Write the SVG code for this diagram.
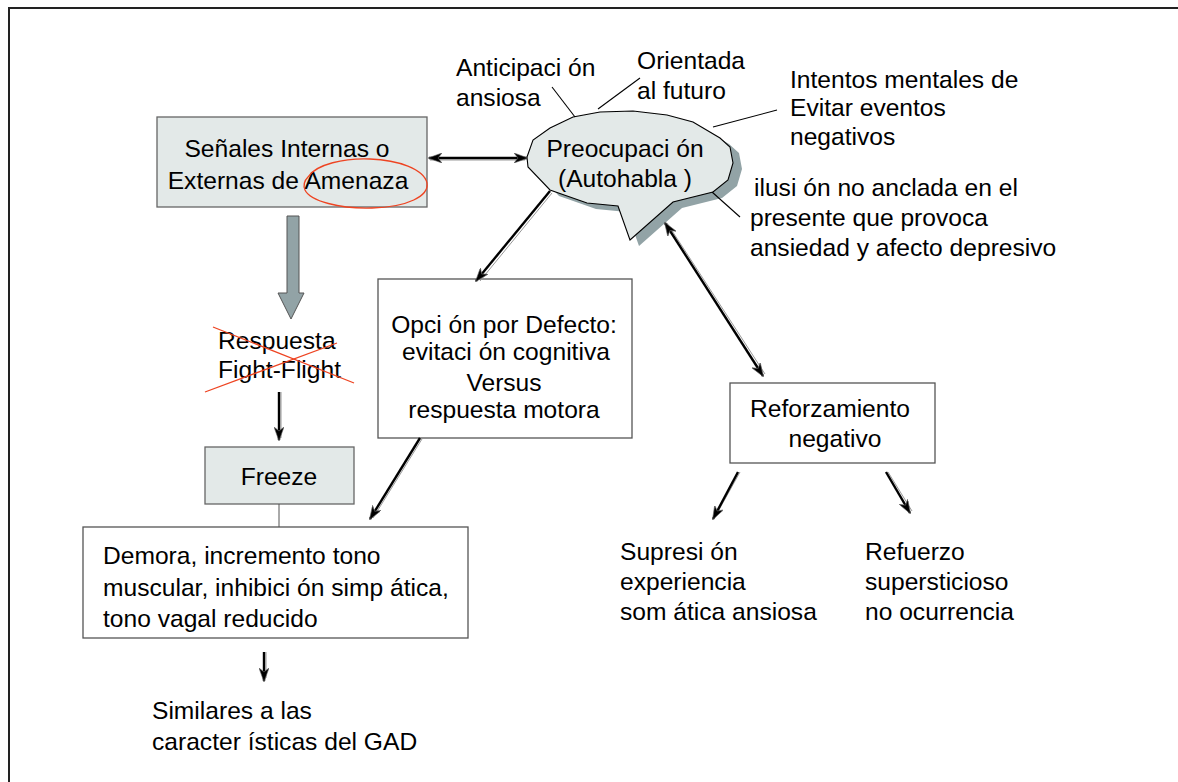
<svg xmlns="http://www.w3.org/2000/svg" width="1178" height="782" viewBox="0 0 1178 782">
<defs>
<style>
text{font-family:"Liberation Sans",Arial,sans-serif;font-size:24.6px;fill:#000}
.mid{text-anchor:middle}
.box{fill:#fff;stroke:#555;stroke-width:1.3}
.gbox{fill:#e3e9e8;stroke:#666;stroke-width:1.3}
.lead{stroke:#000;stroke-width:1.1;fill:none}
.conn{stroke:#000;stroke-width:2.4;fill:none}
.hl{stroke:#999;stroke-width:1;fill:none}
.red{stroke:#ee4422;stroke-width:1.3;fill:none}
</style>
<marker id="ah" viewBox="0 0 14 10" refX="13" refY="5" markerWidth="14" markerHeight="10" markerUnits="userSpaceOnUse" orient="auto-start-reverse">
<path d="M0,0 L14,5 L0,10 L4,5 z" fill="#000" stroke="#666" stroke-width="0.6"/>
</marker>
</defs>
<rect width="1178" height="782" fill="#fff"/>
<g id="frame">
<path d="M9,782 L9,8 L1178,8" fill="none" stroke="#222" stroke-width="2"/>
</g>

<g id="bubble">
<path transform="translate(9,6)" fill="#92a3a6" d="M527,157 L533,140 L550,128 L573,117 L600,112 L633,111 L667,115 L693,122 L720,138 L730,147 L733,163 L728,180 L713,192 L673,202 L630,240 L618,206 L587,203 L550,190 L528,167 Z"/>
<path fill="#e3e9e8" stroke="#000" stroke-width="1.1" d="M527,157 L533,140 L550,128 L573,117 L600,112 L633,111 L667,115 L693,122 L720,138 L730,147 L733,163 L728,180 L713,192 L673,202 L630,240 L618,206 L587,203 L550,190 L528,167 Z"/>
<text x="625" y="157" class="mid">Preocupaci ón</text>
<text x="625" y="187" class="mid">(Autohabla )</text>
</g>

<g id="senales">
<rect class="gbox" x="157" y="117" width="270" height="90"/>
<text x="287" y="157" class="mid">Señales Internas o</text>
<text x="288" y="189" class="mid">Externas de Amenaza</text>
<path class="red" d="M308,177 C316,164 345,158 370,159 C398,160 424,169 427,183 C429,196 408,207 372,208 C340,209 310,201 305,190 C303,185 304,181 308,177"/>
</g>

<g id="anticipacion">
<text x="456" y="76">Anticipaci ón</text>
<text x="456" y="106">ansiosa</text>
<line class="lead" x1="552" y1="87" x2="575" y2="117"/>
</g>
<g id="orientada">
<text x="637" y="69">Orientada</text>
<text x="637" y="99">al futuro</text>
<line class="lead" x1="640" y1="78" x2="598" y2="109"/>
</g>
<g id="intentos">
<text x="790" y="88">Intentos mentales de</text>
<text x="790" y="116">Evitar eventos</text>
<text x="790" y="145">negativos</text>
<line class="lead" x1="777" y1="110" x2="713" y2="127"/>
</g>
<g id="ilusion">
<text x="754" y="196">ilusi ón no anclada en el</text>
<text x="750" y="226">presente que provoca</text>
<text x="750" y="256">ansiedad y afecto depresivo</text>
<line class="lead" x1="712" y1="192" x2="740" y2="217"/>
</g>

<g id="respuesta">
<text x="218" y="349">Respuesta</text>
<text x="218" y="378">Fight-Flight</text>
<line class="red" x1="213" y1="327" x2="354" y2="383"/>
<line class="red" x1="205" y1="392" x2="337" y2="343"/>
</g>

<g id="freeze">
<rect class="gbox" x="205" y="447" width="149" height="57"/>
<text x="279" y="485" class="mid">Freeze</text>
</g>

<g id="demora">
<rect class="box" x="83" y="527" width="385" height="111"/>
<text x="103" y="564">Demora, incremento tono</text>
<text x="103" y="596">muscular, inhibici ón simp ática,</text>
<text x="103" y="627">tono vagal reducido</text>
</g>

<g id="similares">
<text x="152" y="719">Similares a las</text>
<text x="152" y="750">caracter ísticas del GAD</text>
</g>

<g id="opcion">
<rect class="box" x="378" y="279" width="254" height="159"/>
<text x="504" y="333" class="mid">Opci ón por Defecto:</text>
<text x="506" y="360" class="mid">evitaci ón cognitiva</text>
<text x="504" y="391" class="mid">Versus</text>
<text x="504" y="418" class="mid">respuesta motora</text>
</g>

<g id="reforzamiento">
<rect class="box" x="730" y="383" width="205" height="80"/>
<text x="830" y="417" class="mid">Reforzamiento</text>
<text x="835" y="447" class="mid">negativo</text>
</g>

<g id="supresion">
<text x="620" y="560">Supresi ón</text>
<text x="620" y="590">experiencia</text>
<text x="620" y="620">som ática ansiosa</text>
</g>
<g id="refuerzo">
<text x="865" y="560">Refuerzo</text>
<text x="865" y="590">supersticioso</text>
<text x="865" y="620">no ocurrencia</text>
</g>

<g id="connectors">
<path d="M287,216 L299,216 L299,293 L304,293 L291,319 L278,293 L287,293 Z" fill="#92a3a6" stroke="#555" stroke-width="1"/>
<line class="hl" x1="430" y1="160" x2="525" y2="160"/>
<line class="conn" x1="429" y1="158" x2="527" y2="158" marker-start="url(#ah)" marker-end="url(#ah)"/>
<line class="hl" x1="552" y1="193" x2="480" y2="281"/>
<line class="conn" x1="550" y1="191" x2="476" y2="281" marker-end="url(#ah)"/>
<line class="hl" x1="422" y1="439" x2="373" y2="518"/>
<line class="conn" x1="420" y1="438" x2="370" y2="519" marker-end="url(#ah)"/>
<line class="hl" x1="667" y1="223" x2="765" y2="374"/>
<line class="conn" x1="665" y1="223" x2="763" y2="376" marker-start="url(#ah)" marker-end="url(#ah)"/>
<line class="hl" x1="740" y1="472" x2="715" y2="517"/>
<line class="conn" x1="738" y1="472" x2="713" y2="519" marker-end="url(#ah)"/>
<line class="hl" x1="888" y1="472" x2="912" y2="511"/>
<line class="conn" x1="886" y1="472" x2="910" y2="513" marker-end="url(#ah)"/>
<line class="hl" x1="281" y1="392" x2="281" y2="438"/>
<line class="conn" x1="279" y1="392" x2="279" y2="440" stroke-width="1.6" marker-end="url(#ah)"/>
<line x1="279" y1="504" x2="279" y2="527" stroke="#555" stroke-width="1"/>
<line class="hl" x1="266" y1="652" x2="266" y2="678"/>
<line class="conn" x1="264" y1="652" x2="264" y2="681" stroke-width="1.6" marker-end="url(#ah)"/>
</g>
</svg>
